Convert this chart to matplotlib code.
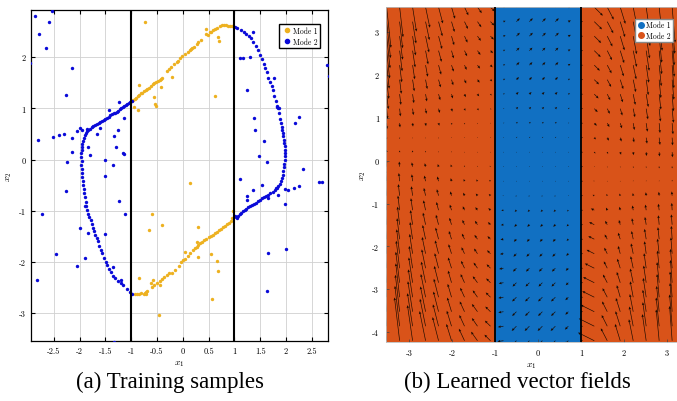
import numpy as np
import matplotlib
matplotlib.use("Agg")
import matplotlib.pyplot as plt
from matplotlib.lines import Line2D

plt.rcParams['font.family'] = 'serif'
plt.rcParams['font.serif'] = ['cmr10', 'DejaVu Serif']
plt.rcParams['mathtext.fontset'] = 'cm'
plt.rcParams['axes.formatter.use_mathtext'] = True

# ---- (a) training samples ----
mode1_x = [-0.98, -0.96, -0.93, -0.9, -0.87, -0.84, -0.81, -0.78, -0.75, -0.72, -0.69, -0.66, -0.62, -0.58,
           -0.55, -0.52, -0.48, -0.45, -0.42, -0.4, -0.3, -0.27, -0.22, -0.17, -0.12, -0.1, -0.05, -0.02,
           0.05, 0.1, 0.14, 0.16, 0.18, 0.22, 0.27, 0.3, 0.36, 0.45, 0.48, 0.52, 0.55, 0.58, 0.62, 0.66,
           0.72, 0.76, 0.8, 0.84, 0.88, 0.92, 0.96,
           -0.74, -0.85, -0.95, -0.86, -0.56, -0.51, -0.53, -0.42, -0.2, 0.62, 0.71, 0.69, 0.45,
           -0.92, -0.88, -0.84, -0.8, -0.76, -0.74, -0.72, -0.72, -0.7, -0.6, -0.55, -0.5, -0.45, -0.4,
           -0.36, -0.3, -0.26, -0.2, -0.15, -0.08, -0.03, 0.0, 0.04, 0.1, 0.15, 0.2, 0.24, 0.28, 0.3,
           0.34, 0.38, 0.42, 0.46, 0.5, 0.54, 0.58, 0.62, 0.66, 0.7, 0.74, 0.78, 0.82, 0.86, 0.9, 0.93,
           0.96, 0.98,
           0.15, -0.59, -0.4, -0.66, -0.84, -0.58, -0.62, -0.46, 0.3, 0.54, 0.66, 0.69, 0.56, 0.3, 0.05,
           0.27, -0.45]
mode1_y = [1.15, 1.17, 1.19, 1.21, 1.24, 1.26, 1.29, 1.3, 1.33, 1.36, 1.38, 1.4, 1.44, 1.47,
           1.49, 1.52, 1.54, 1.56, 1.58, 1.6, 1.73, 1.76, 1.8, 1.86, 1.9, 1.93, 1.98, 2.02,
           2.06, 2.1, 2.13, 2.15, 2.17, 2.2, 2.25, 2.29, 2.34, 2.45, 2.44, 2.49, 2.5, 2.52, 2.55, 2.57,
           2.6, 2.62, 2.62, 2.62, 2.61, 2.61, 2.6,
           2.68, 1.46, 1.02, 0.97, 1.22, 1.04, 1.08, 1.42, 1.62, 1.24, 2.32, 2.4, 2.55,
           -2.62, -2.62, -2.62, -2.6, -2.62, -2.6, -2.58, -2.63, -2.56, -2.48, -2.45, -2.42, -2.38, -2.34,
           -2.3, -2.26, -2.22, -2.21, -2.16, -2.07, -2.01, -1.96, -1.94, -1.88, -1.83, -1.77, -1.73, -1.7, -1.67,
           -1.64, -1.61, -1.58, -1.55, -1.52, -1.49, -1.47, -1.44, -1.41, -1.38, -1.35, -1.32, -1.29, -1.26, -1.23,
           -1.2, -1.15, -1.01,
           -0.45, -1.07, -1.27, -1.38, -2.31, -2.35, -2.42, -3.04, -1.31, -1.84, -1.98, -2.18, -2.73, -1.9, -1.8,
           -1.62, -2.45]

mode2_x = [-0.99, -1.02, -1.05, -1.08, -1.1, -1.13, -1.16, -1.19, -1.22, -1.25, -1.28, -1.31, -1.34, -1.37,
           -1.4, -1.43, -1.46, -1.5, -1.53, -1.56, -1.6, -1.63, -1.66, -1.7, -1.73, -1.76, -1.8, -1.83,
           -1.86, -1.88, -1.9, -1.92, -1.93, -1.95, -1.96, -1.96, -1.97, -1.97, -1.96, -1.97, -1.96, -1.95,
           -1.95, -1.94, -1.93, -1.92, -1.91, -1.9, -1.88, -1.87, -1.85, -1.83, -1.81, -1.78, -1.76, -1.74,
           -1.72, -1.7, -1.67, -1.65, -1.62, -1.59, -1.56, -1.52, -1.49, -1.46, -1.42, -1.39, -1.35, -1.31,
           -1.26, -1.2, -1.15, -1.08, -1.02, -0.99,
           -2.0, -2.15, -2.3, -2.4, -2.51, -1.95, -2.05,
           -2.95, -2.87, -2.54, -2.59, -2.79, -2.64, -2.14, -2.27, -2.8, -2.14, -2.25, -1.79, -1.84, -1.51,
           -1.35, -1.3, -1.34, -1.25, -1.14, -1.23, -1.16, -1.13, -1.42, -1.67, -2.72, -2.27, -2.83, -2.45,
           -2.05, -2.0, -1.89, -1.83, -1.5, -1.24, -1.12, -1.5, -1.33, -1.36, -1.2, -1.9, -1.85, -1.6,
           1.01, 1.03, 1.05, 1.07, 1.1, 1.13, 1.16, 1.2, 1.23, 1.27, 1.3, 1.34, 1.38, 1.42, 1.46, 1.5, 1.54,
           1.58, 1.62, 1.66, 1.7, 1.74, 1.78, 1.82, 1.85, 1.88, 1.9, 1.92, 1.94, 1.95, 1.96, 1.97, 1.98,
           1.99, 1.99, 1.98, 1.98, 1.97, 1.96, 1.95, 1.94, 1.93, 1.92, 1.9, 1.88, 1.86, 1.84, 1.83, 1.8,
           1.77, 1.75, 1.72, 1.69, 1.66, 1.63, 1.6, 1.57, 1.53, 1.49, 1.45, 1.41, 1.37, 1.33, 1.28, 1.23,
           1.18, 1.12, 1.06, 1.02,
           1.98, 2.15, 2.25, 2.04,
           1.11, 1.17, 1.31, 1.24, 1.38, 1.4, 1.58, 1.48, 1.63, 2.18, 2.26, 2.33, 2.8, 2.83, 1.37, 1.11,
           1.24, 1.24, 1.36, 1.53, 1.65, 1.63, 2.0, 1.98, 2.64, 2.7, 1.85, 1.8, 1.77, 1.82, 1.87, 1.66]
mode2_y = [1.15, 1.12, 1.1, 1.08, 1.06, 1.04, 1.02, 1.0, 0.98, 0.95, 0.93, 0.91, 0.9, 0.88,
           0.86, 0.84, 0.82, 0.8, 0.78, 0.76, 0.73, 0.71, 0.69, 0.67, 0.65, 0.63, 0.6, 0.58,
           0.55, 0.52, 0.48, 0.42, 0.36, 0.3, 0.24, 0.18, 0.12, 0.05, -0.02, -0.1, -0.18, -0.26,
           -0.34, -0.42, -0.5, -0.58, -0.66, -0.74, -0.83, -0.9, -0.98, -1.06, -1.12, -1.18, -1.25, -1.33,
           -1.4, -1.47, -1.54, -1.6, -1.68, -1.76, -1.83, -1.92, -2.0, -2.06, -2.14, -2.2, -2.27, -2.32,
           -2.37, -2.42, -2.46, -2.52, -2.58, -2.62,
           0.62, 0.43, 0.49, 0.47, 0.44, 0.57, 0.55,
           1.88, 2.81, 2.9, 2.68, 2.45, 2.18, 1.79, 1.26, 0.38, 0.15, -0.05, 0.08, 0.25, -0.01,
           -0.1, 0.24, 0.46, 0.57, 0.81, 1.12, 0.13, 0.11, 0.96, 0.5, -1.06, -0.62, -2.36, -1.84,
           -2.08, -1.33, -1.92, -1.43, -0.33, -0.81, -1.06, -1.45, -3.56, -2.1, -2.36, -0.9, 0.6, 0.62,
           -1.1, -1.12, -1.14, -1.1, -1.06, -1.04, -1.01, -0.98, -0.96, -0.93, -0.91, -0.89, -0.86, -0.84,
           -0.81, -0.79, -0.76, -0.74, -0.72, -0.69, -0.66, -0.63, -0.6, -0.56, -0.52, -0.47, -0.42, -0.36,
           -0.3, -0.22, -0.15, -0.08, 0.0, 0.06, 0.12, 0.19, 0.26, 0.33, 0.39, 0.46, 0.52, 0.58, 0.64,
           0.72, 0.8, 0.9, 1.0, 1.05, 1.15, 1.25, 1.35, 1.43, 1.52, 1.6, 1.7, 1.78, 1.87, 1.96, 2.05,
           2.13, 2.22, 2.3, 2.37, 2.42, 2.46, 2.5, 2.53, 2.56, 2.58,
           -0.58, -0.55, -0.52, -0.6,
           1.99, 1.98, 2.0, 1.36, 0.81, 0.58, 0.36, 0.06, -0.05, 0.71, 0.84, -0.18, 1.84, 1.64, 2.49, -0.38,
           -0.72, -0.79, -0.6, -0.49, -1.82, -2.57, -1.74, -0.87, -0.43, -0.43, -0.7, -0.55, 1.6, 1.03, 1.0, -0.75]

# ---- (b) learned vector field, read per grid column (top row -> bottom row), hundredths ----
v_cols = [
    [-95, -85, -75, -65, -55, -45, -35, -24, -14, -4, 6, 16, 26, 37, 47, 57, 67, 77, 87, 98, 108, 118, 128, 138],
    [-70, -62, -55, -48, -40, -33, -25, -18, -10, -3, 4, 12, 19, 27, 34, 42, 49, 57, 64, 72, 79, 86, 94, 101],
    [-57, -51, -45, -39, -33, -27, -21, -15, -8, -2, 4, 10, 16, 22, 28, 34, 40, 46, 52, 59, 65, 71, 77, 83],
    [-48, -43, -38, -32, -27, -22, -17, -12, -7, -2, 3, 8, 13, 18, 23, 28, 33, 39, 44, 49, 54, 59, 64, 69],
    [-38, -34, -30, -26, -22, -18, -14, -10, -6, -2, 2, 6, 11, 15, 19, 23, 27, 31, 35, 39, 43, 47, 51, 55],
    [-27, -24, -21, -18, -15, -13, -10, -7, -4, -1, 2, 5, 7, 10, 13, 16, 19, 22, 25, 28, 31, 33, 36, 39],
    [-19, -17, -15, -13, -11, -9, -7, -5, -3, -1, 1, 3, 5, 7, 9, 11, 13, 15, 17, 20, 22, 24, 26, 28],
    [-14, -13, -11, -10, -8, -7, -5, -4, -2, -1, 1, 2, 4, 5, 7, 9, 10, 12, 13, 15, 16, 18, 19, 21],
    [-10, -9, -8, -6, -5, -4, -3, -2, -1, 0, 1, 2, 3, 4, 5, 6, 7, 8, 9, 10, 11, 12, 13, 14],
    [2, 2, 2, 2, 2, 2, 2, 1, 1, 1, 0, 0, 0, 0, -1, -1, -1, -1, -2, -2, -2, -2, -2, -2],
    [8, 8, 8, 7, 7, 6, 5, 4, 3, 2, 1, 0, -1, -2, -4, -5, -6, -7, -8, -9, -10, -10, -11, -12],
    [8, 8, 8, 7, 7, 6, 5, 4, 3, 2, 1, 0, -1, -2, -4, -5, -6, -7, -8, -9, -10, -10, -11, -12],
    [8, 8, 8, 7, 7, 6, 5, 4, 3, 2, 1, 0, -1, -2, -4, -5, -6, -7, -8, -9, -10, -10, -11, -12],
    [8, 8, 8, 7, 7, 6, 5, 4, 3, 2, 1, 0, -1, -2, -4, -5, -6, -7, -8, -9, -10, -10, -11, -12],
    [3, 3, 3, 3, 3, 2, 2, 2, 1, 1, 0, 0, -1, -1, -3, -4, -4, -5, -6, -6, -7, -7, -8, -8],
    [0, 0, 0, 0, 0, 0, 0, 0, 0, 0, 0, 0, 0, 0, 0, 0, 0, 0, 0, 0, 0, 0, 0, 0],
    [-20, -18, -16, -15, -13, -11, -10, -8, -6, -4, -3, -1, 1, 2, 4, 6, 7, 9, 11, 13, 14, 16, 18, 19],
    [-29, -27, -24, -22, -19, -17, -14, -12, -9, -7, -4, -2, 1, 4, 6, 9, 11, 14, 16, 19, 21, 24, 26, 29],
    [-39, -36, -33, -29, -26, -22, -19, -16, -12, -9, -6, -2, 1, 5, 8, 11, 15, 18, 22, 25, 28, 32, 35, 39],
    [-51, -47, -42, -38, -33, -29, -25, -20, -16, -11, -7, -3, 2, 6, 11, 15, 19, 24, 28, 33, 37, 41, 46, 50],
    [-63, -57, -52, -47, -41, -36, -30, -25, -20, -14, -9, -3, 2, 8, 13, 18, 24, 29, 35, 40, 45, 51, 56, 62],
    [-75, -68, -62, -55, -49, -43, -36, -30, -23, -17, -10, -4, 2, 9, 15, 22, 28, 35, 41, 48, 54, 60, 67, 73],
    [-83, -75, -68, -61, -54, -47, -40, -33, -26, -18, -12, -4, 3, 10, 17, 24, 31, 38, 45, 53, 60, 67, 74, 81],
]
u_cols = [
    [10, 9, 8, 7, 6, 5, 4, 2, 1, 0, -1, -2, -3, -4, -5, -6, -7, -8, -9, -10, -11, -12, -13, -14],
    [8, 7, 7, 6, 5, 4, 3, 2, 1, 0, 0, -1, -2, -3, -4, -5, -6, -7, -8, -9, -9, -10, -11, -12],
    [9, 8, 7, 6, 5, 4, 3, 2, 1, 0, -1, -2, -2, -3, -4, -5, -6, -7, -8, -9, -10, -11, -12, -12],
    [10, 9, 8, 6, 5, 4, 3, 2, 1, 0, -1, -2, -3, -4, -5, -6, -7, -8, -9, -10, -11, -12, -13, -14],
    [10, 9, 8, 7, 6, 5, 4, 3, 2, 1, -1, -2, -3, -4, -5, -6, -7, -8, -9, -10, -11, -12, -13, -14],
    [8, 7, 6, 5, 5, 4, 3, 2, 1, 0, -1, -2, -2, -3, -4, -5, -6, -7, -8, -8, -9, -10, -11, -12],
    [9, 8, 7, 6, 5, 4, 3, 2, 1, 0, 0, -1, -2, -3, -4, -5, -6, -7, -8, -9, -10, -11, -12, -13],
    [10, 9, 8, 7, 6, 5, 4, 3, 1, 1, -1, -1, -3, -4, -5, -6, -7, -8, -9, -11, -11, -13, -13, -15],
    [10, 9, 8, 6, 5, 4, 3, 2, 1, 0, -1, -2, -3, -4, -5, -6, -7, -8, -9, -10, -11, -12, -13, -14],
    [5, 5, 5, 4, 4, 4, 3, 2, 2, 1, 1, 0, -1, -2, -5, -6, -7, -8, -10, -11, -12, -12, -13, -14],
    [8, 8, 8, 7, 7, 6, 5, 4, 3, 2, 1, 0, -1, -2, -4, -5, -6, -7, -8, -9, -10, -10, -11, -12],
    [8, 8, 8, 7, 7, 6, 5, 4, 3, 2, 1, 0, -1, -2, -4, -5, -6, -7, -8, -9, -10, -10, -11, -12],
    [8, 8, 8, 7, 7, 6, 5, 4, 3, 2, 1, 0, -1, -2, -4, -5, -6, -7, -8, -9, -10, -10, -11, -12],
    [8, 8, 8, 7, 7, 6, 5, 4, 3, 2, 1, 0, -1, -2, -4, -5, -6, -7, -8, -9, -10, -10, -11, -12],
    [6, 6, 6, 5, 5, 4, 4, 3, 2, 1, 1, 0, -1, -1, -3, -4, -4, -5, -6, -6, -7, -7, -8, -8],
    [4, 4, 4, 4, 4, 4, 4, 4, 4, 4, 4, 4, 4, 4, 4, 4, 4, 4, 4, 4, 4, 4, 4, 4],
    [20, 18, 16, 15, 13, 11, 10, 8, 6, 4, 3, 1, -2, -4, -8, -12, -14, -18, -22, -26, -28, -32, -36, -38],
    [15, 14, 12, 11, 10, 9, 7, 6, 5, 4, 2, 1, -1, -2, -3, -5, -6, -7, -8, -10, -11, -12, -13, -15],
    [12, 11, 10, 9, 8, 7, 6, 5, 4, 3, 2, 1, 0, -2, -2, -3, -5, -5, -7, -8, -8, -10, -11, -12],
    [10, 9, 8, 8, 7, 6, 5, 4, 3, 2, 1, 1, 0, -1, -2, -3, -4, -5, -6, -7, -7, -8, -9, -10],
    [9, 9, 8, 7, 6, 5, 5, 4, 3, 2, 1, 0, 0, -1, -2, -3, -4, -4, -5, -6, -7, -8, -8, -9],
    [8, 7, 6, 6, 5, 4, 4, 3, 2, 2, 1, 0, 0, -1, -2, -2, -3, -4, -4, -5, -5, -6, -7, -7],
    [7, 6, 5, 5, 4, 4, 3, 3, 2, 1, 1, 0, 0, -1, -1, -2, -2, -3, -4, -4, -5, -5, -6, -6],
]
grid_x = np.linspace(-3.52, 3.12, len(v_cols))
grid_y = np.linspace(3.58, -4.2, len(v_cols[0]))

c_mode1 = '#EDB120'
c_mode2 = '#0A0AD8'
c_blue = '#1170C2'
c_orange = '#D95319'

fig = plt.figure(figsize=(6.77, 4.02), dpi=100)
ax1 = fig.add_axes([31 / 677, 59.7 / 402, 297.3 / 677, 331.3 / 402])
ax2 = fig.add_axes([386 / 677, 59 / 402, 291 / 677, 335.5 / 402])

# left panel
ax1.scatter(mode1_x, mode1_y, s=6, color=c_mode1, linewidths=0, zorder=3)
ax1.scatter(mode2_x, mode2_y, s=6, color=c_mode2, linewidths=0, zorder=3)
for xv in (-1, 1):
    ax1.axvline(xv, color='black', lw=1.5, zorder=4)
ax1.set_xlim(-2.94, 2.82)
ax1.set_ylim(-3.55, 2.92)
ax1.set_xticks([-2.5, -2, -1.5, -1, -0.5, 0, 0.5, 1, 1.5, 2, 2.5])
ax1.set_xticklabels(['-2.5', '-2', '-1.5', '-1', '-0.5', '0', '0.5', '1', '1.5', '2', '2.5'])
ax1.set_yticks([-3, -2, -1, 0, 1, 2])
ax1.set_yticklabels(['-3', '-2', '-1', '0', '1', '2'])
ax1.grid(True, color='#d0d0d0', lw=0.6)
ax1.set_axisbelow(True)
ax1.tick_params(direction='in', top=True, right=True, labelsize=6, length=3, width=0.8, pad=4)
for sp in ax1.spines.values():
    sp.set_linewidth(0.9)
ax1.set_xlabel('$x_1$', fontsize=7, labelpad=2)
ax1.set_ylabel('$x_2$', fontsize=7, labelpad=3)
h1 = [Line2D([], [], ls='none', marker='o', ms=3, color=c_mode1),
      Line2D([], [], ls='none', marker='o', ms=3, color=c_mode2)]
ax1.legend(h1, ['Mode 1', 'Mode 2'], loc='upper right', fontsize=5.5, handletextpad=0.2,
           borderpad=0.35, labelspacing=0.3, fancybox=False, edgecolor='black', framealpha=1,
           bbox_to_anchor=(0.985, 0.97), handlelength=1.2)

# right panel
ax2.axvspan(-3.6, -1, color=c_orange, lw=0, zorder=0)
ax2.axvspan(-1, 1, color=c_blue, lw=0, zorder=0)
ax2.axvspan(1, 3.3, color=c_orange, lw=0, zorder=0)
gx, gy = np.meshgrid(grid_x, grid_y)
U = np.array(u_cols).T / 100.0
V = np.array(v_cols).T / 100.0
ax2.quiver(gx, gy, U, V, angles='xy', scale_units='xy', scale=1, color='#1a0a00',
           width=0.0022, headwidth=4, headlength=4.5, headaxislength=4, zorder=2)
for xv in (-1, 1):
    ax2.axvline(xv, color='black', lw=1.3, zorder=3)
ax2.set_xlim(-3.535, 3.233)
ax2.set_ylim(-4.23, 3.595)
ax2.set_xticks([-3, -2, -1, 0, 1, 2, 3])
ax2.set_xticklabels(['-3', '-2', '-1', '0', '1', '2', '3'])
ax2.set_yticks([-4, -3, -2, -1, 0, 1, 2, 3])
ax2.set_yticklabels(['-4', '-3', '-2', '-1', '0', '1', '2', '3'])
ax2.tick_params(direction='in', labelsize=6, length=2, width=0.5, pad=5, colors='#444444',
                labelcolor='black')
for sp in ax2.spines.values():
    sp.set_color('#bbbbbb')
    sp.set_linewidth(0.6)
ax2.set_xlabel('$x_1$', fontsize=7, labelpad=2)
ax2.set_ylabel('$x_2$', fontsize=7, labelpad=3)
h2 = [Line2D([], [], ls='none', marker='o', ms=4, color=c_blue),
      Line2D([], [], ls='none', marker='o', ms=4, color=c_orange)]
ax2.legend(h2, ['Mode 1', 'Mode 2'], loc='upper right', fontsize=5.5, handletextpad=0.2,
           borderpad=0.3, labelspacing=0.25, fancybox=False, edgecolor='#888888', framealpha=1,
           bbox_to_anchor=(1.0, 0.975), handlelength=1.0)

fig.text(170 / 677, 1 - 382 / 402, '(a) Training samples', ha='center', va='center',
         fontsize=16.5, family='Liberation Serif')
fig.text(517 / 677, 1 - 382 / 402, '(b) Learned vector fields', ha='center', va='center',
         fontsize=16.5, family='Liberation Serif')

fig.savefig('out.png', dpi=100)
